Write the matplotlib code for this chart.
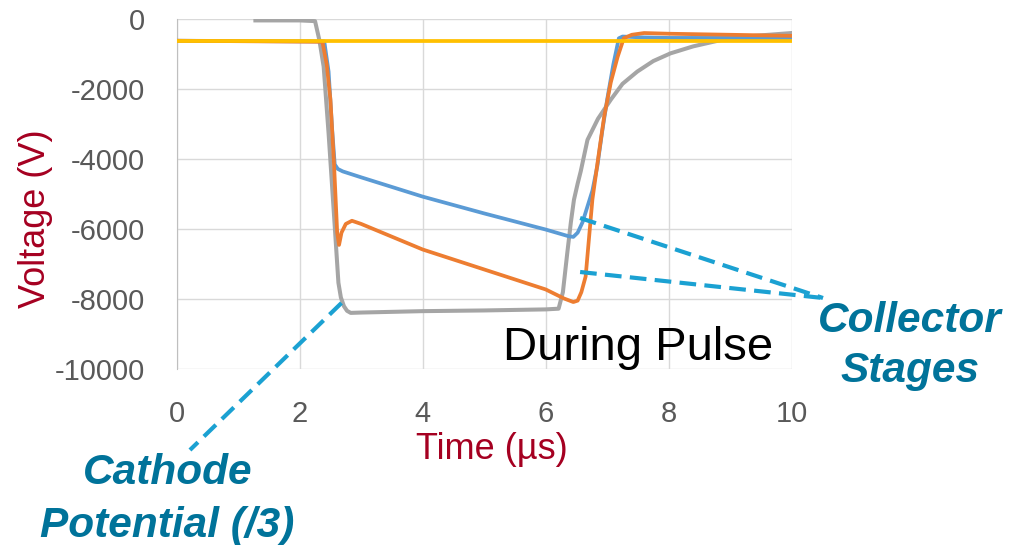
import numpy as np
import matplotlib
matplotlib.use('Agg')
import matplotlib.pyplot as plt

plt.rcParams['font.family'] = ['Liberation Sans', 'DejaVu Sans']

# Series data (time in us, voltage in V)
t_yellow = [0, 10]
v_yellow = [-620, -620]

t_blue = [0, 2.40, 2.47, 2.53, 2.57, 2.62, 2.70, 3.0, 4.0, 5.0, 6.0, 6.37, 6.45, 6.52,
          6.60, 6.68, 6.76, 6.84, 6.92, 7.0, 7.1, 7.19, 7.25, 7.5, 8.0, 9.0, 10.0]
v_blue = [-620, -640, -1500, -3200, -4150, -4280, -4350, -4520, -5070, -5550, -6010, -6200, -6220, -6100,
          -5800, -5350, -4900, -4200, -3200, -2300, -1300, -550, -500, -520, -540, -540, -560]

t_orange = [0, 2.37, 2.44, 2.50, 2.56, 2.61, 2.64, 2.68, 2.75, 2.85, 3.0, 4.0, 5.0, 6.0, 6.3,
            6.45, 6.52, 6.58, 6.65, 6.76, 6.86, 6.95, 7.06, 7.17, 7.27, 7.4, 7.6, 8.0, 9.0, 10.0]
v_orange = [-620, -650, -1300, -2300, -4200, -6100, -6450, -6100, -5850, -5760, -5850, -6580, -7150, -7720, -7980,
            -8080, -8040, -7800, -7350, -5150, -3900, -2800, -1800, -1080, -550, -450, -400, -420, -450, -480]

t_gray = [1.28, 2.0, 2.25, 2.32, 2.39, 2.47, 2.56, 2.63, 2.67, 2.72, 2.77, 2.83, 3.0, 4.0, 5.0, 6.0, 6.21,
          6.28, 6.35, 6.41, 6.46, 6.52, 6.57, 6.68, 6.85, 7.06, 7.25, 7.49, 7.75, 8.03, 8.4, 8.85, 9.4, 10.0]
v_gray = [-40, -40, -60, -600, -1360, -3260, -5640, -7530, -7950, -8200, -8330, -8390, -8380, -8340, -8320, -8290, -8270,
          -7800, -6700, -5800, -5160, -4700, -4350, -3450, -2850, -2300, -1850, -1500, -1200, -980, -780, -600, -480, -400]

x_ticks = [0, 2, 4, 6, 8, 10]
y_ticks = [0, -2000, -4000, -6000, -8000, -10000]
y_tick_labels = ['0', '-2000', '-4000', '-6000', '-8000', '-10000']

label_red = '#A50021'
tick_gray = '#595959'
note_teal = '#00739A'
dash_blue = '#1BA1D2'

fig = plt.figure(figsize=(10.09, 5.45), dpi=100)
ax = fig.add_axes([0.1751, 0.3224, 0.6095, 0.6427])

ax.plot(t_gray, v_gray, color='#A5A5A5', lw=2.9, zorder=3)
ax.plot(t_blue, v_blue, color='#5B9BD5', lw=2.7, zorder=4)
ax.plot(t_orange, v_orange, color='#ED7D31', lw=2.7, zorder=5)
ax.plot(t_yellow, v_yellow, color='#FFC000', lw=2.7, zorder=6)

ax.set_xlim(0, 10)
ax.set_ylim(-10000, 0)
ax.set_xticks(x_ticks)
ax.set_yticks(y_ticks)
ax.set_yticklabels(y_tick_labels)
ax.tick_params(length=0, labelsize=21, labelcolor=tick_gray)
ax.tick_params(axis='y', pad=23)
ax.tick_params(axis='x', pad=22)
ax.grid(True, color='#D9D9D9', lw=1.0)
ax.set_axisbelow(True)
for side in ['top', 'right', 'bottom']:
    ax.spines[side].set_visible(False)
ax.spines['left'].set_color('#BFBFBF')

ax.set_xlabel('Time (µs)', fontsize=26, color=label_red, labelpad=3, x=0.513)
ax.set_ylabel('Voltage (V)', fontsize=26, color=label_red, labelpad=1, y=0.43)

# annotation lines (dashed pointers)
dash_kw = dict(color=dash_blue, lw=3, dashes=(4, 2), clip_on=False, zorder=7)
ax.plot([2.68, 0.216], [-8107, -12304], **dash_kw)
ax.plot([6.56, 10.51], [-5681, -7965], **dash_kw)
ax.plot([6.56, 10.51], [-7222, -7965], **dash_kw)

note_kw = dict(fontsize=30.5, fontweight='bold', style='italic', color=note_teal,
               ha='center', va='baseline', clip_on=False)
ax.text(-0.15, -13274, 'Cathode', **note_kw)
ax.text(-0.15, -14787, 'Potential (/3)', **note_kw)
ax.text(11.92, -8935, 'Collector', **note_kw)
ax.text(11.92, -10353, 'Stages', **note_kw)

ax.text(7.51, -9734, 'During Pulse', fontsize=34, color='black', ha='center', va='baseline', zorder=8)

fig.savefig('out.png', dpi=100)
